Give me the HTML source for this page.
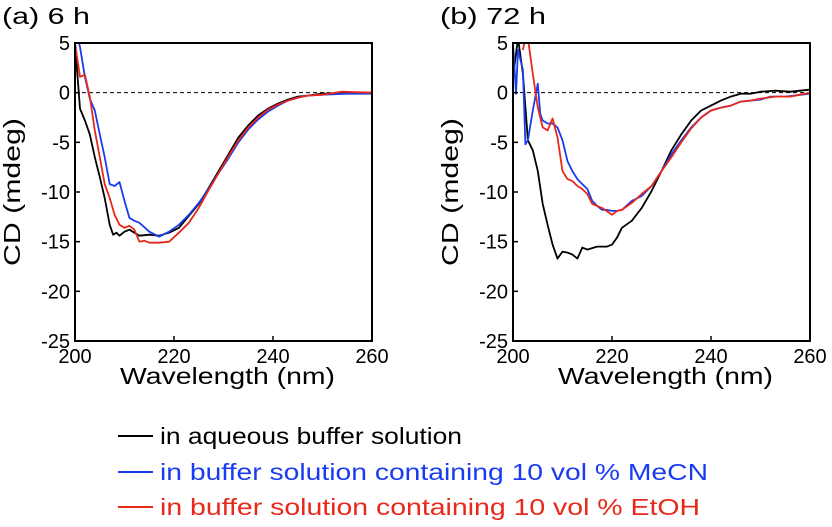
<!DOCTYPE html>
<html><head><meta charset="utf-8"><style>
body{margin:0;background:#fff;width:832px;height:522px;overflow:hidden;font-family:"Liberation Sans",Arial,sans-serif}
</style></head><body>
<svg id="chart" width="832" height="522" viewBox="0 0 832 522" font-family="Liberation Sans, Arial, sans-serif">
<g id="panels"></g>
<g>
 <line x1="118" y1="436" x2="153" y2="436" stroke="#000" stroke-width="2"/>
 <text x="160" y="444" font-size="23" textLength="302" lengthAdjust="spacingAndGlyphs" fill="#000">in aqueous buffer solution</text>
 <line x1="118" y1="472" x2="153" y2="472" stroke="#1a3cf0" stroke-width="2"/>
 <text x="160" y="480" font-size="23" textLength="548" lengthAdjust="spacingAndGlyphs" fill="#1a3cf0">in buffer solution containing 10 vol % MeCN</text>
 <line x1="118" y1="507" x2="153" y2="507" stroke="#e8281a" stroke-width="2"/>
 <text x="160" y="515" font-size="23" textLength="540" lengthAdjust="spacingAndGlyphs" fill="#e8281a">in buffer solution containing 10 vol % EtOH</text>
</g>
</svg>
<script>
const xTicks=[200,220,240,260];
const yTicks=[5,0,-5,-10,-15,-20,-25];
const panelTitles=["(a) 6 h","(b) 72 h"];
const seriesNames=["aqueous","mecn","etoh"];
const seriesColors=["#000","#1a3cf0","#e8281a"];
// Panel a (6 h)
const aBlackX=[200,201,202,203,204,205,206,207,207.7,208.4,209,210,211,212,213,215,217,219,221,223,225,227,229,231,233,235,237,239,241,243,245,247,250,260];
const aBlackY=[5,-1.6,-2.8,-4.2,-6.5,-8.5,-10.6,-13.3,-14.3,-14.1,-14.4,-14,-13.8,-14.1,-14.4,-14.3,-14.4,-14.1,-13.6,-12.4,-11.2,-9.6,-7.9,-6.2,-4.5,-3.3,-2.3,-1.6,-1.1,-0.7,-0.4,-0.3,-0.1,0];
const aBlueX=[200.3,201,202,203,204,205,206,207,208,209,210,211,212,213,215,217,219,221,223,225,227,229,231,233,235,237,239,241,243,245,247,250,255,260];
const aBlueY=[6,4.6,1.6,-0.6,-1.8,-4.2,-6.5,-9.2,-9.4,-9,-10.9,-12.6,-12.9,-13.1,-14,-14.5,-14,-13.3,-12.3,-11.1,-9.7,-8.1,-6.6,-5,-3.7,-2.7,-1.9,-1.3,-0.8,-0.5,-0.3,-0.2,-0.1,-0.1];
const aRedX=[200,201,202,203,204,205,206,207,208,209,210,211,212,213,214,215,217,219,221,223,225,227,229,231,233,235,237,239,241,243,245,247,250,254,260];
const aRedY=[5,1.6,1.8,-0.4,-3.8,-6.5,-9.2,-10.6,-12.3,-13.3,-13.6,-13.4,-13.8,-15,-14.9,-15.1,-15.1,-15,-14.1,-13.1,-11.6,-9.8,-8.1,-6.4,-4.8,-3.5,-2.5,-1.7,-1.2,-0.8,-0.5,-0.3,-0.2,0.1,0];
// Panel b (72 h)
const bBlackX=[200,201,202,203,204,205,206,207,208,209,210,211,212,213,214,215,217,219,220,221,222,224,226,228,230,232,234,236,238,240,242,244,246,248,250,253,256,260];
const bBlackY=[1.5,5.5,1.9,-4.8,-5.8,-7.9,-11.2,-13.3,-15.3,-16.7,-16,-16.1,-16.3,-16.7,-15.6,-15.8,-15.5,-15.5,-15.3,-14.6,-13.6,-12.9,-11.6,-9.9,-7.9,-5.8,-4.2,-2.8,-1.8,-1.3,-0.8,-0.4,-0.1,-0.1,0.1,0.2,0.1,0.3];
const bBlueX=[200,200.6,201,202,202.5,203,204,205,205.5,206,207,208,209,210,211,212,213,214,215,216,217,218,219,220,221,222,224,226,228,230,232,234,236,238,240,242,244,246,248,250,252,255,260];
const bBlueY=[5,-0.1,4.3,2.3,-5.2,-4.8,-1.8,0.9,-2.1,-2.8,-3.1,-3.1,-3.5,-4.8,-6.9,-7.9,-8.7,-9.2,-9.7,-10.9,-11.4,-11.8,-11.8,-11.9,-11.9,-11.8,-10.9,-10.4,-9.4,-7.9,-6.2,-4.8,-3.5,-2.5,-1.8,-1.5,-1.3,-0.9,-0.8,-0.7,-0.4,-0.4,-0.1];
const bRedX=[202,202.5,203,204,205,206,207,208,209,210,211,212,213,214,215,216,217,218,220,221,222,224,226,228,230,232,234,236,238,240,242,244,246,248,250,253,256,260];
const bRedY=[4.3,5.5,5.5,1.9,-1.5,-3.5,-3.8,-2.6,-4.5,-7.9,-8.7,-8.9,-9.4,-9.7,-10.2,-11.2,-11.4,-11.6,-12.3,-11.9,-11.8,-11.1,-10.2,-9.4,-7.9,-6.5,-5,-3.6,-2.5,-1.8,-1.5,-1.3,-0.9,-0.8,-0.6,-0.4,-0.4,0];

const NS="http://www.w3.org/2000/svg";
const root=document.getElementById('panels');
function mk(tag,attrs,parent){const e=document.createElementNS(NS,tag);for(const k in attrs)e.setAttribute(k,attrs[k]);parent.appendChild(e);return e;}
const panels=[
 {left:75,right:372,title:panelTitles[0],tx:2,tw:88,series:[[aBlackX,aBlackY],[aBlueX,aBlueY],[aRedX,aRedY]]},
 {left:513,right:810,title:panelTitles[1],tx:440,tw:106,series:[[bBlackX,bBlackY],[bBlueX,bBlueY],[bRedX,bRedY]]}
];
const plotTop=43,plotBottom=341;
panels.forEach((p,pi)=>{
 const g=mk('g',{},root);
 
 
 const xs=v=>p.left+(v-200)/60*(p.right-p.left);
 const ys=v=>plotTop+(5-v)/30*(plotBottom-plotTop);
 const t=mk('text',{x:p.tx,y:24,'font-size':23,textLength:p.tw,lengthAdjust:'spacingAndGlyphs'},g);t.textContent=p.title;
 
 
 const cid='clip'+pi;
 const cp=mk('clipPath',{id:cid},g);mk('rect',{x:p.left,y:plotTop,width:p.right-p.left,height:plotBottom-plotTop},cp);
 const zl=mk('line',{x1:p.left,x2:p.right,y1:ys(0),y2:ys(0),stroke:'#000','stroke-width':1,'stroke-dasharray':'4,3'},g);
 
 
 p.series.forEach((s,si)=>{
  const d=s[0].map((x,i)=>(i?'L':'M')+xs(x).toFixed(1)+','+ys(s[1][i]).toFixed(1)).join('');
  const path=mk('path',{d:d,fill:'none',stroke:seriesColors[si],'stroke-width':1.8,'clip-path':'url(#'+cid+')','stroke-linejoin':'round'},g);
  
  
 });
 const fr=mk('rect',{x:p.left,y:plotTop,width:p.right-p.left,height:plotBottom-plotTop,fill:'none',stroke:'#000','stroke-width':2},g);
 
 
 yTicks.forEach(v=>{
  mk('line',{x1:p.left,x2:p.left+5,y1:ys(v),y2:ys(v),stroke:'#000','stroke-width':1.5},g);
  const tl=mk('text',{x:p.left-5,y:ys(v)+7,'font-size':20,'text-anchor':'end'},g);tl.textContent=v;
  
  
 });
 xTicks.forEach(v=>{
  mk('line',{x1:xs(v),x2:xs(v),y1:plotBottom,y2:plotBottom-5,stroke:'#000','stroke-width':1.5},g);
  const tl=mk('text',{x:xs(v),y:plotBottom+22,'font-size':20,'text-anchor':'middle'},g);tl.textContent=v;
  
  
 });
 const xt=mk('text',{x:(p.left+p.right)/2+4,y:plotBottom+43,'font-size':23,'text-anchor':'middle',textLength:215,lengthAdjust:'spacingAndGlyphs'},g);xt.textContent='Wavelength (nm)';
 
 
 const yx=p.left-55, yc=(plotTop+plotBottom)/2;
 const yt=mk('text',{x:yx,y:yc,'font-size':23,'text-anchor':'middle',textLength:148,lengthAdjust:'spacingAndGlyphs',transform:'rotate(-90 '+yx+' '+yc+')'},g);yt.textContent='CD (mdeg)';
 
 
});
</script>
</body></html>
